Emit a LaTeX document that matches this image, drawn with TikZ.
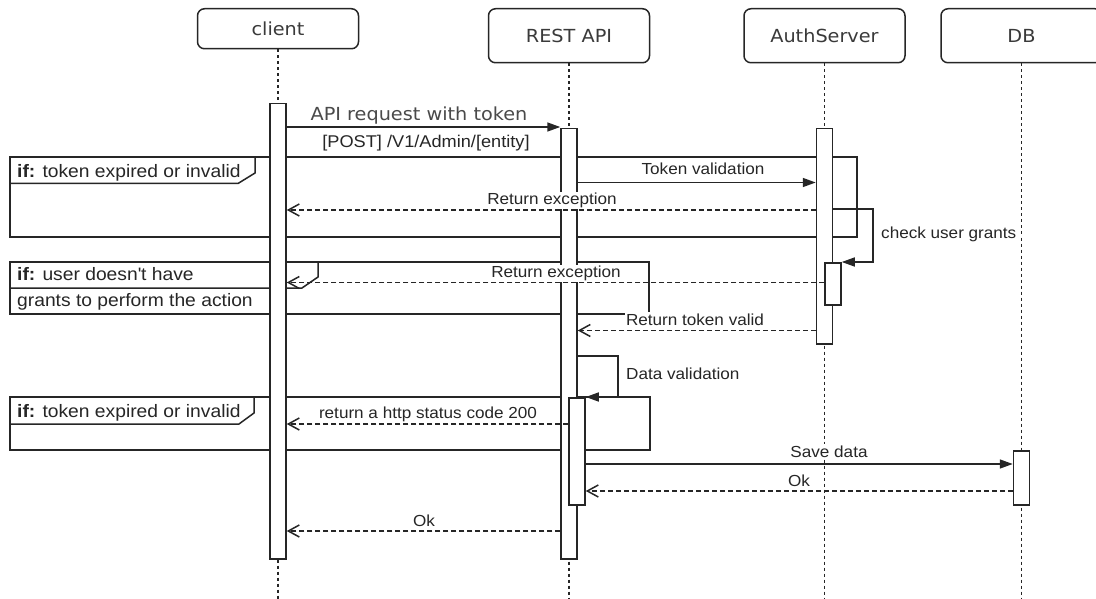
\documentclass[tikz,border=0pt]{standalone}
\usepackage{fontspec}
\setmainfont{Liberation Sans}[FakeStretch=1.07]
\newfontfamily\hdfont{DejaVu Sans}[FakeStretch=1.07]
\usetikzlibrary{arrows.meta}
\definecolor{ln}{HTML}{262626}
\definecolor{tx}{HTML}{262626}
\definecolor{hx}{HTML}{3A3A3A}
\definecolor{apitx}{HTML}{4A4A4A}
\begin{document}
\begin{tikzpicture}[x=1pt,y=-1pt,
 hdr/.style={draw=ln, line width=1.5pt, rounded corners=7pt, fill=white, minimum width=161pt, anchor=north, inner sep=0pt, font=\hdfont\fontsize{18}{20}\selectfont, text=hx},
 life/.style={draw=ln, line width=1.4pt, dash pattern=on 3pt off 3pt},
 act/.style={draw=ln, line width=1.5pt, fill=white, minimum width=16pt, anchor=north, inner sep=0pt},
 frm/.style={draw=ln, line width=1.5pt},
 sync/.style={draw=ln, line width=1.5pt, -{Triangle[length=13pt,width=9pt]}},
 ret/.style={draw=ln, line width=1.5pt, dash pattern=on 5pt off 3pt, -{Straight Barb[length=11pt,width=12pt]}},
 lbl/.style={fill=white, inner sep=1pt, text=tx, font=\fontsize{16}{18}\selectfont, anchor=base},
 flbl/.style={inner sep=0pt, text=tx, font=\fontsize{18}{20}\selectfont, anchor=base west},
]
\useasboundingbox (0,0) rectangle (1096,599);
\clip (0,0) rectangle (1096,599);
\fill[white] (0,0) rectangle (1096,599);

% participants
\node[hdr, minimum height=40pt] (client) at (278,8) {client};
\node[hdr, minimum height=54pt] (rest) at (569,8) {REST API};
\node[hdr, minimum height=54pt] (auth) at (824.5,8) {AuthServer};
\node[hdr, minimum height=54pt] (db) at (1021.5,8) {DB};

% lifelines
\draw[life] (client.south) -- (client.south |- 0,600);
\draw[life] (rest.south) -- (rest.south |- 0,600);
\draw[life] (auth.south) -- (auth.south |- 0,600);
\draw[life] (db.south) -- (db.south |- 0,600);

% frames
\draw[frm] (10,157) rectangle (857,237);
\draw[frm] (255,157) -- (255,173) -- (238,183.5) -- (10,183.5);
\node[flbl] (f1) at (17,177.3) {\textbf{if:} token expired or invalid};

\draw[frm] (10,262) rectangle (649,314);
\draw[frm] (318,262) -- (318,277) -- (302,288) -- (10,288);
\node[flbl] (f2a) at (17,280.5) {\textbf{if:} user doesn\textquotesingle t have};
\node[flbl] (f2b) at (17,306) {grants to perform the action};

\draw[frm] (10,397) rectangle (650,450);
\draw[frm] (254,397) -- (254,413) -- (239,424) -- (10,424);
\node[flbl] (f3) at (17,417) {\textbf{if:} token expired or invalid};

% activations
\node[act, minimum height=455pt] (cA) at (278,103) {};
\node[act, minimum height=430pt] (rA) at (569,128) {};
\node[act, minimum height=215pt] (aA) at (824.5,128) {};
\node[act, minimum height=42pt] (aA2) at (833,262) {};
\node[act, minimum height=107pt] (rA2) at (577,397) {};
\node[act, minimum height=54pt] (dA) at (1021.5,450) {};

% messages
\draw[sync] (cA.east |- 0,127) -- (rA.west |- 0,127);
\node[lbl, font=\hdfont\fontsize{18}{20}\selectfont, text=apitx] (l1) at (419,121) {API request with token};
\node[lbl, font=\fontsize{17}{19}\selectfont] (l2) at (426,148) {[POST] /V1/Admin/[entity]};

\draw[sync] (rA.east |- 0,182.5) -- (aA.west |- 0,182.5);
\node[lbl] (l3) at (703,175) {Token validation};

\draw[ret] (aA.west |- 0,210) -- (cA.east |- 0,210);
\node[lbl] (l4) at (552,204.5) {Return exception};

\coordinate (s1a) at (873,209);
\coordinate (s1b) at (873,262);
\draw[sync] (aA.east |- s1a) -- (s1a) -- (s1b) -- (aA2.east |- s1b);
\node[lbl, anchor=base west] (l5) at (880,238) {check user grants};

\draw[ret] (aA2.west |- 0,282.5) -- (cA.east |- 0,282.5);
\node[lbl] (l6) at (556,277.5) {Return exception};

\draw[ret] (aA.west |- 0,330.5) -- (rA.east |- 0,330.5);
\node[lbl] (l7) at (695,325) {Return token valid};

\coordinate (s2a) at (618,356);
\coordinate (s2b) at (618,397);
\draw[sync] (rA.east |- s2a) -- (s2a) -- (s2b) -- (rA2.east |- s2b);
\node[lbl, anchor=base west] (l8) at (625,379) {Data validation};

\draw[ret] (rA2.west |- 0,424) -- (cA.east |- 0,424);
\node[lbl] (l9) at (428,418) {return a http status code 200};

\draw[sync] (rA2.east |- 0,464) -- (dA.west |- 0,464);
\node[lbl] (l10) at (829,457) {Save data};

\draw[ret] (dA.west |- 0,491) -- (rA2.east |- 0,491);
\node[lbl] (l11) at (799,486) {Ok};

\draw[ret] (rA.west |- 0,531) -- (cA.east |- 0,531);
\node[lbl] (l12) at (424,526) {Ok};
\end{tikzpicture}
\end{document}
